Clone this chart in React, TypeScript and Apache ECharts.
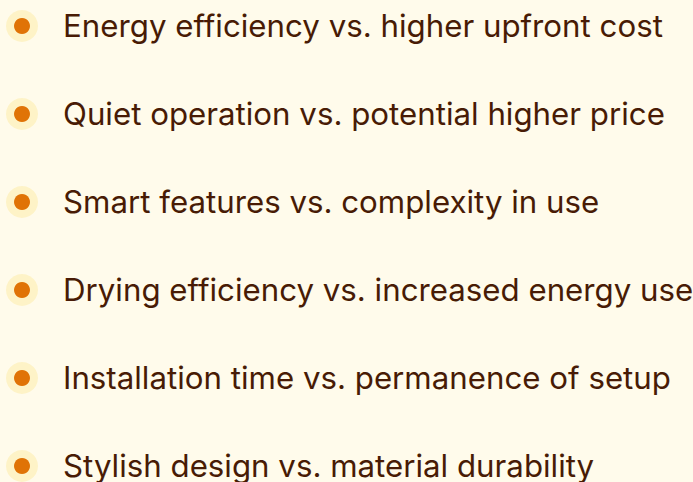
import React, { useEffect, useRef } from "react";
import * as echarts from "echarts";

const items = [
  "Energy efficiency vs. higher upfront cost",
  "Quiet operation vs. potential higher price",
  "Smart features vs. complexity in use",
  "Drying efficiency vs. increased energy use",
  "Installation time vs. permanence of setup",
  "Stylish design vs. material durability",
];
const markerX = 22;

export default function App() {
  const ref = useRef<HTMLDivElement>(null);
  useEffect(() => {
    if (!ref.current) return;
    const chart = echarts.init(ref.current, undefined, { renderer: "svg" });
    const pts = items.map((t) => [markerX, t]);
    chart.setOption({
      animation: false,
      backgroundColor: "#FFFBEB",
      grid: { left: 0, right: 0, top: 26, bottom: 16 },
      xAxis: { type: "value", min: 0, max: 693, show: false },
      yAxis: {
        type: "category",
        data: items,
        inverse: true,
        boundaryGap: false,
        show: false,
      },
      series: [
        {
          type: "scatter",
          data: pts,
          symbolSize: 32,
          itemStyle: { color: "#FEF3C7", opacity: 1 },
          silent: true,
          label: {
            show: true,
            position: "right",
            distance: 25,
            formatter: (p: any) => p.value[1],
            color: "#481B05",
            fontFamily: "Inter",
            fontSize: 31.25,
          },
        },
        {
          type: "scatter",
          data: pts,
          symbolSize: 16,
          itemStyle: { color: "#E07306", opacity: 1 },
          silent: true,
        },
      ],
    });
    return () => chart.dispose();
  }, []);
  return (
    <div
      ref={ref}
      style={{ position: "fixed", left: 0, top: 0, width: 693, height: 482 }}
    />
  );
}
